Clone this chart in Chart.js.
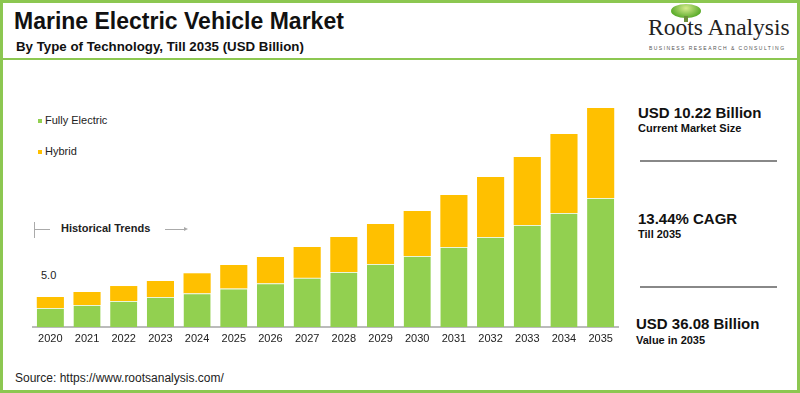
<!DOCTYPE html>
<html>
<head>
<meta charset="utf-8">
<script src="https://cdn.jsdelivr.net/npm/chart.js@4"></script>
<style>
  body { margin: 0; background: #fff; font-family: "Liberation Sans", Arial, sans-serif; }
  #frame { position: absolute; left: 0; top: 0; width: 794px; height: 387px; border: 3px solid #8cc751; overflow: hidden; }
  .abs { position: absolute; white-space: nowrap; }
  #title { left: 11px; top: 5px; font-size: 23px; font-weight: bold; color: #111; }
  #subtitle { left: 13px; top: 36px; font-size: 13.3px; font-weight: bold; color: #111; }
  #hline { left: 0; top: 55px; width: 794px; height: 2px; background: #8cc751; }
  #brand { left: 645px; top: 11px; font-family: "Liberation Serif", serif; font-size: 23.5px; color: #222; }
  #tag { left: 646px; top: 42px; font-size: 5px; letter-spacing: 1.45px; color: #555; }
  #tree { left: 668px; top: 1px; width: 30px; height: 14px; border-radius: 50%; background: radial-gradient(ellipse at 50% 30%, #d7ec8e, #5fae2e 70%); }
  #trunk { left: 681px; top: 13px; width: 4px; height: 6px; background: #6b8f3a; }
  .leg { font-size: 11px; color: #222; }
  .sw { display: inline-block; width: 4px; height: 4px; margin-right: 3px; vertical-align: middle; }
  .big { font-size: 15px; font-weight: bold; color: #111; }
  .small { font-size: 11px; font-weight: bold; color: #111; }
  .sep { height: 2px; width: 137px; background: #888; }
  #source { left: 12px; top: 368px; font-size: 12px; color: #222; }
</style>
</head>
<body>
<div id="frame">
  <div id="title" class="abs">Marine Electric Vehicle Market</div>
  <div id="subtitle" class="abs">By Type of Technology, Till 2035 (USD Billion)</div>
  <div id="hline" class="abs"></div>
  <div id="tree" class="abs"></div>
  <div id="trunk" class="abs"></div>
  <div id="brand" class="abs">Roots Analysis</div>
  <div id="tag" class="abs">BUSINESS RESEARCH &amp; CONSULTING</div>

  <div id="legend"></div>

  <div class="abs" style="left:31px;top:219px;width:1px;height:16px;background:#aaa"></div>
  <div class="abs" style="left:31px;top:226px;width:16px;height:1px;background:#aaa"></div>
  <div class="abs" style="left:58px;top:219px;font-size:11px;font-weight:bold;color:#222">Historical Trends</div>
  <div class="abs" style="left:162px;top:226px;width:20px;height:1px;background:#aaa"></div>
  <div class="abs" style="left:181px;top:224px;width:0;height:0;border-top:2.5px solid transparent;border-bottom:2.5px solid transparent;border-left:4px solid #aaa"></div>
  <div class="abs" style="left:38px;top:266px;font-size:11px;color:#222">5.0</div>

  <div class="abs big" style="left:635px;top:101px">USD 10.22 Billion</div>
  <div class="abs small" style="left:635px;top:119px">Current Market Size</div>
  <div class="abs sep" style="left:637px;top:157px"></div>
  <div class="abs big" style="left:635px;top:207px">13.44% CAGR</div>
  <div class="abs small" style="left:635px;top:225px">Till 2035</div>
  <div class="abs sep" style="left:637px;top:283px"></div>
  <div class="abs big" style="left:633px;top:312px">USD 36.08 Billion</div>
  <div class="abs small" style="left:633px;top:331px">Value in 2035</div>

  <div id="source" class="abs">Source: https://www.rootsanalysis.com/</div>

  <div class="abs" style="left:29px;top:97px;width:587px;height:250px">
    <canvas id="chart" width="587" height="250"></canvas>
  </div>
</div>
<script>
const years = ['2020','2021','2022','2023','2024','2025','2026','2027','2028','2029','2030','2031','2032','2033','2034','2035'];
const fullyElectric = [3.13, 3.62, 4.28, 4.94, 5.55, 6.35, 7.2, 8.1, 9.06, 10.38, 11.7, 13.18, 14.83, 16.8, 18.78, 21.25];
const hybrid = [1.81, 2.15, 2.47, 2.64, 3.3, 3.87, 4.33, 5.08, 5.77, 6.59, 7.41, 8.57, 9.88, 11.2, 13.02, 14.83];
const seriesNames = ['Fully Electric', 'Hybrid'];
const seriesColors = ['#92d050', '#ffc000'];

let legendHtml = '';
seriesNames.forEach(function (n, i) {
  legendHtml += '<div class="abs leg" style="left:35px;top:' + (111 + i * 31) + 'px">' +
    '<span class="sw" style="background:' + seriesColors[i] + '"></span>' + n + '</div>';
});
document.getElementById('legend').innerHTML = legendHtml;

new Chart(document.getElementById('chart'), {
  type: 'bar',
  data: {
    labels: years,
    datasets: [
      { label: seriesNames[0], data: fullyElectric, backgroundColor: seriesColors[0],
        borderColor: '#e9f5d9', borderWidth: { top: 1, left: 0, right: 0, bottom: 0 }, borderSkipped: false },
      { label: seriesNames[1], data: hybrid, backgroundColor: seriesColors[1], borderWidth: 0 }
    ]
  },
  options: {
    responsive: false,
    animation: false,
    layout: { padding: 0 },
    plugins: { legend: { display: false }, tooltip: { enabled: false } },
    datasets: { bar: { barPercentage: 0.74, categoryPercentage: 1 } },
    scales: {
      x: {
        stacked: true,
        grid: { display: false, drawTicks: false, tickLength: 0 },
        border: { color: '#bbb', width: 2 },
        ticks: { color: '#222', font: { family: 'Liberation Sans', size: 11 }, padding: 5, maxRotation: 0 },
        afterFit: function (s) { s.height = 23; }
      },
      y: { stacked: true, display: false, min: 0, max: 37.4 }
    }
  }
});
</script>
</body>
</html>
